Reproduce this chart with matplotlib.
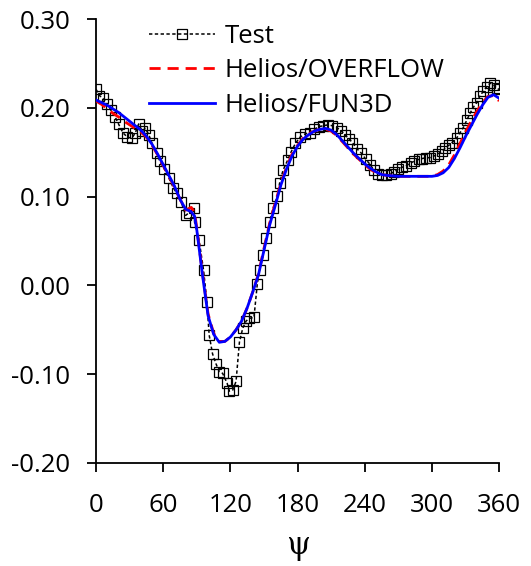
import numpy as np
import matplotlib.pyplot as plt
from matplotlib.ticker import FixedLocator


# Test data (psi in degrees)
test_psi = [0, 3, 6, 10, 13, 17, 20, 24, 28, 32, 35, 38, 41, 44, 47, 50, 54, 57,
            61, 65, 69, 72, 76, 80, 83, 87, 88, 92, 96, 99, 101, 104, 107, 110,
            113, 117, 119, 122, 125, 128, 131, 134, 137, 141, 144, 146, 149, 152,
            155, 158, 162, 164, 167, 171, 174, 178, 182, 187, 191, 195, 199, 203,
            207, 211, 215, 219, 222, 226, 229, 233, 237, 241, 245, 248, 252, 255,
            259, 263, 266, 270, 273, 277, 281, 284, 288, 291, 295, 298, 302, 305,
            309, 312, 315, 318, 322, 325, 328, 331, 334, 337, 340, 343, 346, 349,
            352, 355, 358, 360]
test_val = [0.221, 0.214, 0.211, 0.204, 0.198, 0.190, 0.182, 0.172, 0.167, 0.166,
            0.172, 0.182, 0.174, 0.177, 0.170, 0.160, 0.149, 0.140, 0.131, 0.121,
            0.110, 0.104, 0.094, 0.079, 0.082, 0.087, 0.071, 0.051, 0.017, -0.019,
            -0.056, -0.077, -0.088, -0.097, -0.099, -0.110, -0.119, -0.118, -0.108,
            -0.064, -0.048, -0.040, -0.037, -0.036, 0.002, 0.017, 0.034, 0.054,
            0.071, 0.087, 0.101, 0.116, 0.130, 0.141, 0.150, 0.160, 0.167, 0.171,
            0.172, 0.176, 0.179, 0.180, 0.181, 0.180, 0.178, 0.174, 0.170, 0.165,
            0.161, 0.154, 0.149, 0.142, 0.136, 0.130, 0.126, 0.125, 0.125, 0.126,
            0.128, 0.131, 0.133, 0.135, 0.138, 0.140, 0.142, 0.143, 0.144, 0.144,
            0.146, 0.148, 0.151, 0.155, 0.158, 0.161, 0.166, 0.172, 0.178, 0.186,
            0.194, 0.201, 0.206, 0.214, 0.219, 0.224, 0.228, 0.226, 0.222, 0.221]

# CFD results
cfd_psi = [0, 5, 10, 15, 20, 25, 30, 35, 40, 45, 50, 55, 60, 65, 70, 75, 80, 85,
           88, 90, 95, 100, 105, 110, 115, 120, 125, 130, 135, 140, 145, 150, 155,
           160, 165, 170, 175, 180, 185, 190, 195, 200, 205, 210, 215, 220, 225,
           230, 235, 240, 245, 250, 255, 260, 270, 280, 290, 300, 305, 310, 315,
           320, 325, 330, 335, 340, 345, 350, 355, 360]
overflow_val = [0.208, 0.204, 0.199, 0.194, 0.190, 0.185, 0.181, 0.177, 0.173,
                0.167, 0.158, 0.147, 0.135, 0.123, 0.111, 0.097, 0.085, 0.088,
                0.082, 0.064, 0.014, -0.032, -0.054, -0.063, -0.063, -0.058,
                -0.050, -0.040, -0.025, -0.007, 0.013, 0.042, 0.070, 0.093,
                0.115, 0.133, 0.148, 0.158, 0.166, 0.171, 0.174, 0.176, 0.176,
                0.174, 0.169, 0.162, 0.155, 0.148, 0.142, 0.136, 0.131, 0.127,
                0.125, 0.124, 0.123, 0.123, 0.123, 0.123, 0.125, 0.129, 0.136,
                0.147, 0.160, 0.173, 0.185, 0.196, 0.206, 0.213, 0.214, 0.208]
fun3d_val = [0.209, 0.206, 0.203, 0.199, 0.195, 0.190, 0.185, 0.180, 0.175,
             0.168, 0.159, 0.148, 0.136, 0.124, 0.112, 0.097, 0.086, 0.083,
             0.078, 0.062, 0.012, -0.034, -0.055, -0.064, -0.063, -0.058,
             -0.050, -0.040, -0.025, -0.007, 0.012, 0.040, 0.068, 0.090,
             0.113, 0.131, 0.146, 0.157, 0.165, 0.170, 0.174, 0.176, 0.177,
             0.175, 0.170, 0.163, 0.156, 0.149, 0.143, 0.137, 0.132, 0.128,
             0.125, 0.124, 0.123, 0.123, 0.123, 0.123, 0.124, 0.127, 0.133,
             0.143, 0.155, 0.168, 0.180, 0.192, 0.203, 0.212, 0.215, 0.211]

x_ticks = [0, 60, 120, 180, 240, 300, 360]
y_ticks = [-0.20, -0.10, 0.00, 0.10, 0.20, 0.30]

plt.rcParams['font.family'] = ['Open Sans', 'DejaVu Sans']

fig = plt.figure(figsize=(5.31, 5.66), dpi=100)
ax = fig.add_axes([0.181, 0.182, 0.759, 0.784])

ax.plot(test_psi, test_val, color='black', linestyle=(0, (2.2, 1.6)), linewidth=1.1,
        marker='s', markersize=7, markerfacecolor='none', markeredgecolor='black',
        markeredgewidth=0.9, label='Test', zorder=2)
ax.plot(cfd_psi, overflow_val, color='red', linestyle=(0, (4, 2.5)), linewidth=2.0,
        label='Helios/OVERFLOW', zorder=3)
ax.plot(cfd_psi, fun3d_val, color='blue', linewidth=2.0, label='Helios/FUN3D', zorder=4)

ax.set_xlim(0, 360)
ax.set_ylim(-0.20, 0.30)
ax.xaxis.set_major_locator(FixedLocator(x_ticks))
ax.yaxis.set_major_locator(FixedLocator(y_ticks))
ax.set_xticklabels([str(t) for t in x_ticks])
ax.set_yticklabels([f'{t:.2f}' for t in y_ticks])

for side in ['top', 'right']:
    ax.spines[side].set_visible(False)
for side in ['left', 'bottom']:
    ax.spines[side].set_linewidth(1.3)
ax.tick_params(direction='out', length=6.5, width=1.3, labelsize=18.5)
ax.tick_params(axis='y', pad=12)
ax.tick_params(axis='x', pad=15)

ax.set_xlabel('ψ', family=['DejaVu Serif'], fontsize=22, labelpad=9)

ax.legend(loc='upper left', bbox_to_anchor=(0.13, 0.99), frameon=False,
          fontsize=18.5, handlelength=2.6, handletextpad=0.35, labelspacing=0.38,
          numpoints=1, borderaxespad=0, borderpad=0)

fig.savefig('out.png', dpi=100)
